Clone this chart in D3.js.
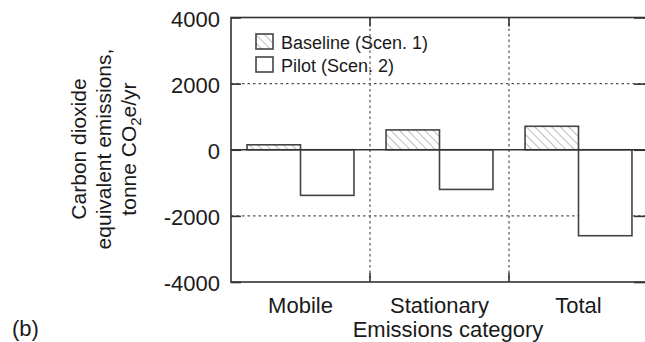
<!DOCTYPE html>
<html>
<head>
<meta charset="utf-8">
<script src="https://cdn.jsdelivr.net/npm/d3@7"></script>
<style>
  html, body { margin: 0; padding: 0; background: #fff; }
  svg { display: block; font-family: "Liberation Sans", Arial, Helvetica, sans-serif; }
</style>
</head>
<body>
<svg id="chart" width="645" height="342"></svg>
<script>
const categories = ["Mobile", "Stationary", "Total"];
const seriesNames = ["Baseline (Scen. 1)", "Pilot (Scen. 2)"];
const baselineValues = [150, 600, 710];
const pilotValues = [-1380, -1200, -2600];
const yTicks = [-4000, -2000, 0, 2000, 4000];
const gridTicks = [-2000, 2000];

const svg = d3.select("#chart");
const m = { left: 231, right: 648, top: 17.5, bottom: 282 };
const textColor = "#1a1a1a";

const defs = svg.append("defs");
const pat = defs.append("pattern")
  .attr("id", "hatch").attr("patternUnits", "userSpaceOnUse")
  .attr("width", 6).attr("height", 6)
  .attr("patternTransform", "rotate(-45)");
pat.append("line").attr("x1", 0).attr("y1", 0).attr("x2", 0).attr("y2", 6)
  .attr("stroke", "#888").attr("stroke-width", 1.1);

const x0 = d3.scaleBand().domain(categories).range([m.left, m.right]).padding(0);
const x1 = d3.scaleBand().domain(seriesNames).range([0, x0.bandwidth()])
  .paddingInner(0).paddingOuter(0.3);
const y = d3.scaleLinear().domain([-4000, 4000]).range([m.bottom, m.top]);

const frameColor = "#333";
const gridColor = "#555";

// gridlines
const g = svg.append("g");
g.selectAll(".hgrid").data(gridTicks).join("line")
  .attr("x1", m.left).attr("x2", m.right)
  .attr("y1", d => y(d)).attr("y2", d => y(d))
  .attr("stroke", gridColor).attr("stroke-width", 1.2)
  .attr("stroke-dasharray", "2.5,3");
const bounds = categories.slice(1).map(c => x0(c));
g.selectAll(".vgrid").data(bounds).join("line")
  .attr("x1", d => d).attr("x2", d => d)
  .attr("y1", m.top).attr("y2", m.bottom)
  .attr("stroke", gridColor).attr("stroke-width", 1.2)
  .attr("stroke-dasharray", "2.5,3");

// bars
const data = categories.map((c, i) => ({ cat: c, vals: [baselineValues[i], pilotValues[i]] }));
const groups = svg.append("g").selectAll("g").data(data).join("g")
  .attr("transform", d => `translate(${x0(d.cat)},0)`);
groups.selectAll("rect").data(d => d.vals.map((v, j) => ({ s: seriesNames[j], v, j })))
  .join("rect")
  .attr("x", d => x1(d.s))
  .attr("width", x1.bandwidth())
  .attr("y", d => y(Math.max(0, d.v)))
  .attr("height", d => Math.abs(y(d.v) - y(0)))
  .attr("fill", d => d.j === 0 ? "url(#hatch)" : "#fff")
  .attr("stroke", "#444").attr("stroke-width", 1.6);

// zero line
svg.append("line").attr("x1", m.left).attr("x2", m.right)
  .attr("y1", y(0)).attr("y2", y(0))
  .attr("stroke", frameColor).attr("stroke-width", 1.6);

// frame
svg.append("rect").attr("x", m.left).attr("y", m.top)
  .attr("width", m.right - m.left).attr("height", m.bottom - m.top)
  .attr("fill", "none").attr("stroke", frameColor).attr("stroke-width", 1.6);

// left axis (ticks inward) with labels
const yAxis = d3.axisLeft(y).tickValues(yTicks).tickSizeInner(-10).tickSizeOuter(0)
  .tickPadding(11).tickFormat(d => String(d));
const ya = svg.append("g").attr("transform", `translate(${m.left},0)`).call(yAxis);
ya.select(".domain").remove();
ya.selectAll(".tick line").attr("stroke", frameColor).attr("stroke-width", 1.6);
ya.selectAll(".tick text").attr("font-size", 22).attr("fill", textColor)
  .attr("dy", "0.4em")
  .attr("font-family", "'Liberation Sans', Arial, sans-serif");

// right ticks
const yr = svg.append("g").attr("transform", `translate(${m.right},0)`)
  .call(d3.axisRight(y).tickValues(yTicks).tickSizeInner(-14).tickSizeOuter(0).tickFormat(""));
yr.select(".domain").remove();
yr.selectAll(".tick line").attr("stroke", frameColor).attr("stroke-width", 1.6);

// bottom axis: category labels, ticks at boundaries
const xb = svg.append("g").attr("transform", `translate(0,${m.bottom})`)
  .call(d3.axisBottom(x0).tickSize(0).tickPadding(15));
xb.select(".domain").remove();
xb.selectAll(".tick text").attr("font-size", 22).attr("fill", textColor)
  .attr("font-family", "'Liberation Sans', Arial, sans-serif");
svg.append("g").selectAll("line").data(bounds).join("line")
  .attr("x1", d => d).attr("x2", d => d)
  .attr("y1", m.bottom).attr("y2", m.bottom - 9)
  .attr("stroke", frameColor).attr("stroke-width", 1.6);
svg.append("g").selectAll("line").data(bounds).join("line")
  .attr("x1", d => d).attr("x2", d => d)
  .attr("y1", m.top).attr("y2", m.top + 9)
  .attr("stroke", frameColor).attr("stroke-width", 1.6);

// axis titles
svg.append("text").attr("x", 448).attr("y", 337)
  .attr("text-anchor", "middle").attr("font-size", 22).attr("fill", textColor)
  .text("Emissions category");

const yl = svg.append("text").attr("transform", "translate(103,149) rotate(-90)")
  .attr("text-anchor", "middle").attr("font-size", 21).attr("fill", textColor);
yl.append("tspan").attr("x", 0).attr("y", -17).text("Carbon dioxide");
yl.append("tspan").attr("x", 0).attr("y", 8).text("equivalent emissions,");
yl.append("tspan").attr("x", 0).attr("y", 33).text("tonne CO");
yl.append("tspan").attr("dy", 5).attr("font-size", 15).text("2");
yl.append("tspan").attr("dy", -5).text("e/yr");

svg.append("text").attr("x", 12).attr("y", 336).attr("font-size", 22).attr("fill", textColor)
  .text("(b)");

// legend
const leg = svg.append("g");
seriesNames.forEach((s, i) => {
  const yy = 34 + i * 23;
  leg.append("rect").attr("x", 256).attr("y", yy).attr("width", 17).attr("height", 15)
    .attr("fill", i === 0 ? "url(#hatch)" : "#fff")
    .attr("stroke", "#444").attr("stroke-width", 1.6);
  leg.append("text").attr("x", 281).attr("y", yy + 15).attr("font-size", 18)
    .attr("fill", textColor).text(s);
});
</script>
</body>
</html>
